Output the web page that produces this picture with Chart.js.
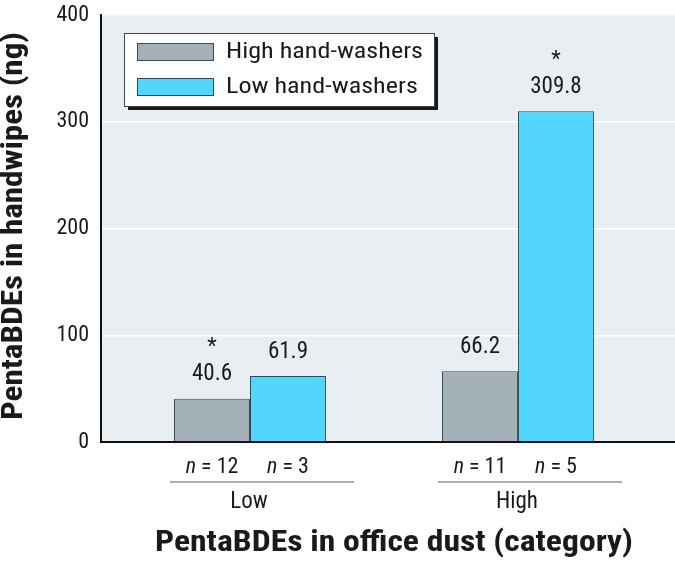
<!DOCTYPE html>
<html>
<head>
<meta charset="utf-8">
<script src="https://cdn.jsdelivr.net/npm/chart.js@4"></script>
<style>
  html, body { margin: 0; padding: 0; background: #fff; }
  #wrap { width: 675px; height: 563px; }
</style>
</head>
<body>
<div id="wrap"><canvas id="myChart" width="675" height="563"></canvas></div>
<script>
const FONT = "'Liberation Sans Narrow', 'Roboto Condensed', 'Arial Narrow', Roboto, sans-serif";

// data
const groups = ['Low', 'High'];
const groupPos = [1, 2];
const highWashers = [40.6, 66.2];
const lowWashers = [61.9, 309.8];
const nHigh = [12, 11];
const nLow = [3, 5];
const starHigh = [true, false];
const starLow = [false, true];
const yTicks = [0, 100, 200, 300, 400];

const ctx = document.getElementById("myChart").getContext("2d");

const bgPlugin = {
  id: 'bg',
  beforeDraw(chart) {
    const a = chart.chartArea, c = chart.ctx;
    c.save();
    c.fillStyle = '#e9eef2';
    c.fillRect(a.left, a.top, a.right - a.left, a.bottom - a.top);
    c.restore();
  }
};

// draw text centred at (x, y), stretched sideways to a given width
function stretchText(c, text, x, y, font, width) {
  c.save();
  c.font = font;
  const w = c.measureText(text).width;
  c.translate(x, y);
  c.scale(width / w, 1);
  c.textAlign = 'center';
  c.textBaseline = 'middle';
  c.fillText(text, 0, 0);
  c.restore();
}

function drawN(c, x, y, n) {
  // italic n, then " = 12"
  c.font = 'italic 22px ' + FONT;
  const w1 = c.measureText('n').width;
  c.font = '22px ' + FONT;
  const rest = ' = ' + n;
  const w2 = c.measureText(rest).width;
  const x0 = x - (w1 + w2) / 2;
  c.textAlign = 'left';
  c.textBaseline = 'middle';
  c.font = 'italic 22px ' + FONT;
  c.fillText('n', x0, y);
  c.font = '22px ' + FONT;
  c.fillText(rest, x0 + w1, y);
}

const extrasPlugin = {
  id: 'extras',
  afterDraw(chart) {
    const c = chart.ctx;
    const m0 = chart.getDatasetMeta(0), m1 = chart.getDatasetMeta(1);
    c.save();
    c.fillStyle = '#1a1a1a';

    // value labels + asterisks
    const sets = [[m0, highWashers, starHigh], [m1, lowWashers, starLow]];
    sets.forEach(([meta, vals, stars]) => {
      meta.data.forEach((bar, i) => {
        c.font = '23px ' + FONT;
        c.textAlign = 'center';
        c.textBaseline = 'middle';
        c.fillText(vals[i].toFixed(1), bar.x, bar.y - 24);
        if (stars[i]) {
          c.font = '22px ' + FONT;
          c.fillText('*', bar.x, bar.y - 51);
        }
      });
    });

    // n labels, rule and group name under each pair
    groups.forEach((g, i) => {
      const b0 = m0.data[i], b1 = m1.data[i];
      drawN(c, b0.x, 467, nHigh[i]);
      drawN(c, b1.x, 467, nLow[i]);
      c.strokeStyle = '#a4b1b8';
      c.lineWidth = 2;
      c.beginPath();
      c.moveTo(b0.x - 42, 482);
      c.lineTo(b1.x + 66, 482);
      c.stroke();
      c.font = '23px ' + FONT;
      c.textAlign = 'center';
      c.textBaseline = 'middle';
      c.fillText(g, (b0.x + b1.x) / 2 - 1, 502);
    });

    // axis titles
    stretchText(c, 'PentaBDEs in office dust (category)', 394, 544, 'bold 29px ' + FONT, 478);
    c.save();
    c.translate(15, 226);
    c.rotate(-Math.PI / 2);
    stretchText(c, 'PentaBDEs in handwipes (ng)', 0, 0, 'bold 29px ' + FONT, 388);
    c.restore();

    // legend box with drop shadow
    const lx = 124, ly = 33, lw = 310, lh = 73;
    c.fillStyle = '#1a1a1a';
    c.fillRect(lx + 4, ly + 4, lw, lh);
    c.fillStyle = '#ffffff';
    c.fillRect(lx, ly, lw, lh);
    c.strokeStyle = '#444';
    c.lineWidth = 1;
    c.strokeRect(lx + 0.5, ly + 0.5, lw, lh);
    c.font = '22px ' + FONT;
    const k = 197 / c.measureText(chart.data.datasets[0].label).width;
    chart.data.datasets.forEach((ds, i) => {
      const sy = 43 + i * 35;
      c.fillStyle = ds.backgroundColor;
      c.fillRect(137, sy, 76, 17);
      c.strokeStyle = ds.borderColor;
      c.strokeRect(137.5, sy + 0.5, 76, 17);
      c.fillStyle = '#1a1a1a';
      c.save();
      c.translate(226, sy + 9);
      c.scale(k, 1);
      c.font = '22px ' + FONT;
      c.textAlign = 'left';
      c.textBaseline = 'middle';
      c.fillText(ds.label, 0, 0);
      c.restore();
    });
    c.restore();
  }
};

const chart = new Chart(ctx, {
  type: 'bar',
  data: {
    datasets: [
      {
        label: 'High hand-washers',
        data: groupPos.map((x, i) => ({ x: x, y: highWashers[i] })),
        backgroundColor: '#a4b1b8',
        borderColor: '#3c4a52',
        borderWidth: 1,
        categoryPercentage: 0.567,
        barPercentage: 1
      },
      {
        label: 'Low hand-washers',
        data: groupPos.map((x, i) => ({ x: x, y: lowWashers[i] })),
        backgroundColor: '#52d6fc',
        borderColor: '#2b4a58',
        borderWidth: 1,
        categoryPercentage: 0.567,
        barPercentage: 1
      }
    ]
  },
  options: {
    responsive: false,
    animation: false,
    devicePixelRatio: 1,
    layout: { padding: { top: 15, right: 0, left: 0, bottom: 0 } },
    plugins: { legend: { display: false }, tooltip: { enabled: false } },
    scales: {
      x: {
        type: 'linear',
        offset: false,
        min: 0.444,
        max: 2.586,
        afterBuildTicks: s => { s.ticks = groupPos.map(v => ({ value: v })); },
        afterFit: s => { s.height = 121; },
        ticks: { display: false },
        grid: { display: false, offset: false },
        border: { display: true, color: '#111', width: 2 }
      },
      y: {
        min: 0,
        max: 400,
        afterBuildTicks: s => { s.ticks = yTicks.map(v => ({ value: v })); },
        afterFit: s => { s.width = 101; s.paddingTop = 0; s.paddingBottom = 0; },
        ticks: {
          color: '#1a1a1a',
          padding: 12,
          font: { family: FONT, size: 22 }
        },
        grid: { color: '#ffffff', lineWidth: 1.5, drawTicks: false },
        border: { display: true, color: '#111', width: 2 }
      }
    }
  },
  plugins: [bgPlugin, extrasPlugin]
});
</script>
</body>
</html>
